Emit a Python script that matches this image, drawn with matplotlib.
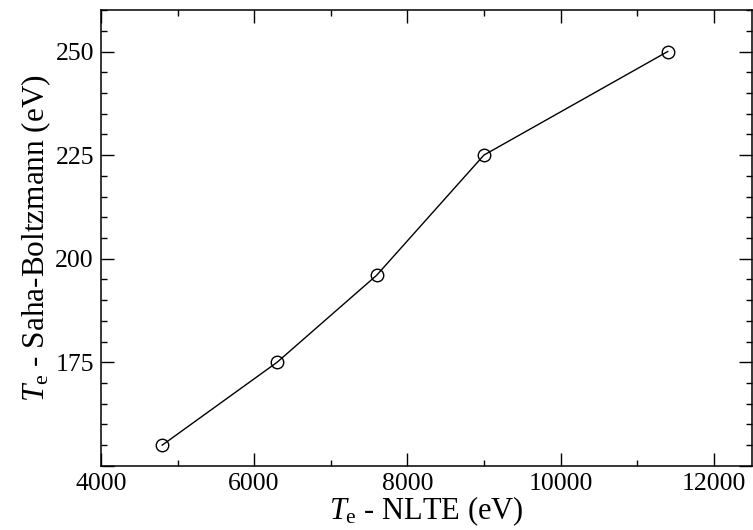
import matplotlib
matplotlib.use("Agg")
import matplotlib.pyplot as plt
from matplotlib.ticker import MultipleLocator, FuncFormatter

# data
te_nlte = [4800, 6300, 7600, 9000, 11400]
te_saha = [155, 175, 196, 225, 250]

plt.rcParams['font.family'] = ['Liberation Serif', 'DejaVu Serif']
plt.rcParams['mathtext.fontset'] = 'custom'
plt.rcParams['mathtext.rm'] = 'Liberation Serif'
plt.rcParams['mathtext.it'] = 'Liberation Serif:italic'

fig = plt.figure(figsize=(7.53, 5.30), dpi=100)
ax = fig.add_axes([0.134, 0.121, 0.8647, 0.860])

ax.plot(te_nlte, te_saha, color='black', lw=1.0, marker='o', ms=9,
        mfc='none', mec='black', mew=1.0)

ax.set_xlim(4000, 12500)
ax.set_ylim(150, 260)
ax.xaxis.set_major_locator(MultipleLocator(2000))
ax.xaxis.set_minor_locator(MultipleLocator(1000))
ax.yaxis.set_major_locator(MultipleLocator(25))
ax.yaxis.set_minor_locator(MultipleLocator(5))
# the bottom y tick (150) carries no label in the original
ax.yaxis.set_major_formatter(FuncFormatter(lambda v, p: '' if v <= 150 else f'{v:.0f}'))
ax.tick_params(which='both', direction='in', top=True, right=True, width=1.0,
               labelsize=18.5)
ax.tick_params(axis='x', pad=5)
ax.tick_params(axis='y', pad=5)
ax.tick_params(which='major', length=9.5)
ax.tick_params(which='minor', length=4.5)
for s in ax.spines.values():
    s.set_linewidth(1.1)

ax.set_xlabel(r'$T_{\mathrm{e}}$ - NLTE (eV)', fontsize=22, labelpad=0)
ax.set_ylabel(r'$T_{\mathrm{e}}$ - Saha-Boltzmann (eV)', fontsize=22.5, labelpad=2)

fig.savefig('out.png', dpi=100)
